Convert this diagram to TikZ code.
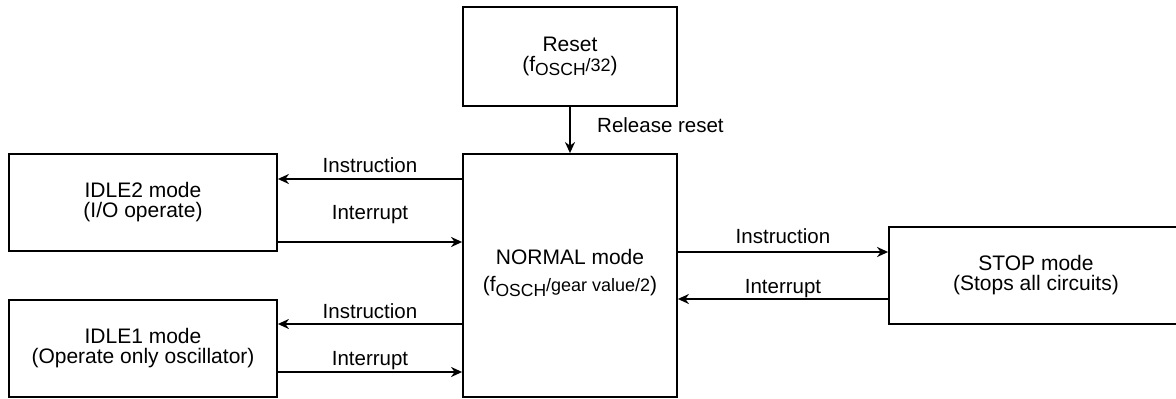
\documentclass[tikz,border=0pt]{standalone}
\usepackage{fontspec}
\setmainfont{Liberation Sans}
\usetikzlibrary{arrows.meta}

% frequency with the OSCH subscript
\newcommand\foschtext[1]{(f\raisebox{-4.5pt}{\fontsize{17.5}{17.5}\selectfont OSCH}{\fontsize{18}{18}\selectfont #1})}

\tikzset{
  modebox/.style={draw, line width=1.8pt, align=center, inner sep=0pt,
    font=\fontsize{21}{20}\selectfont},
  lbl/.style={anchor=base, inner sep=0pt, font=\fontsize{20.5}{20}\selectfont},
  arr/.style={line width=1.8pt, -{Stealth[length=11pt,width=10pt,inset=3.5pt]}}
}

\begin{document}
\begin{tikzpicture}[x=1pt,y=-1pt]
\useasboundingbox[fill=white] (0,0) rectangle (1176,399);

% mode boxes
\node[modebox, minimum width=214pt, minimum height=99pt] (reset) at (570,56.5)
  {Reset\\\foschtext{/32}};
\node[modebox, minimum width=214pt, minimum height=243pt] (normal) at (570,275.5)
  {\raisebox{10pt}{\shortstack{NORMAL mode\\[9pt]\foschtext{/gear value/2}}}};
\node[modebox, minimum width=268pt, minimum height=97pt] (idle2) at (143,202.5)
  {IDLE2 mode\\(I/O operate)};
\node[modebox, minimum width=268pt, minimum height=97pt] (idle1) at (143,348.5)
  {IDLE1 mode\\(Operate only oscillator)};
\node[modebox, minimum width=294pt, minimum height=97pt] (stop) at (1036,275.5)
  {STOP mode\\(Stops all circuits)};

% transitions
\draw[arr] (reset.south) -- (normal.north);
\node[lbl, anchor=base west] (relres) at (597,132) {Release reset};

\draw[arr] (normal.west |- 0,179) -- (idle2.east |- 0,179);
\node[lbl] (ins2) at (370,172) {Instruction};
\draw[arr] (idle2.east |- 0,242) -- (normal.west |- 0,242);
\node[lbl] (int2) at (370,219) {Interrupt};

\draw[arr] (normal.west |- 0,324) -- (idle1.east |- 0,324);
\node[lbl] (ins1) at (370,318) {Instruction};
\draw[arr] (idle1.east |- 0,372) -- (normal.west |- 0,372);
\node[lbl] (int1) at (370,365) {Interrupt};

\draw[arr] (normal.east |- 0,252) -- (stop.west |- 0,252);
\node[lbl] (inss) at (783,243) {Instruction};
\draw[arr] (stop.west |- 0,299) -- (normal.east |- 0,299);
\node[lbl] (ints) at (783,293) {Interrupt};
\end{tikzpicture}
\end{document}
